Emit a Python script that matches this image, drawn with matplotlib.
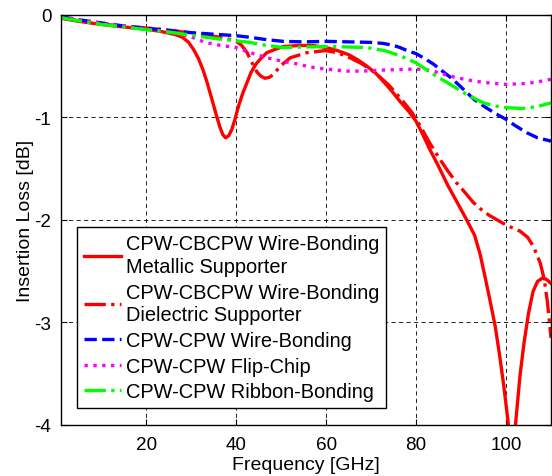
import matplotlib
matplotlib.use("Agg")
import matplotlib.pyplot as plt

plt.rcParams['font.family'] = ['Liberation Sans', 'DejaVu Sans']

# ---- data ----
metal_f = [1, 5, 10, 15, 20, 24, 26.5, 28, 29.4, 30.5, 31.6, 32.6, 33.5, 34.6, 35.5, 36.3, 37, 37.6,
           38.3, 39, 39.7, 40.5, 41.4, 42.4, 43.3, 44.4, 45.6, 46.8, 48.5, 50.5, 54, 57, 60, 62.5, 65,
           67, 69, 71, 72.7, 74.5, 76.5, 78.5, 80, 81.5, 83, 85, 87, 89, 91, 93, 94.2, 95.3, 96.5,
           97.6, 98.6, 99.5, 100.4, 101.3, 102.2, 103.1, 104, 105, 106, 107, 108, 109, 110]
metal_v = [-0.035, -0.065, -0.095, -0.12, -0.14, -0.17, -0.195, -0.22, -0.27, -0.34, -0.43, -0.54,
           -0.66, -0.83, -0.97, -1.09, -1.17, -1.20, -1.18, -1.12, -1.02, -0.89, -0.77, -0.66, -0.56,
           -0.48, -0.42, -0.37, -0.34, -0.31, -0.30, -0.30, -0.32, -0.35, -0.39, -0.44, -0.50, -0.57,
           -0.65, -0.74, -0.85, -0.95, -1.04, -1.17, -1.31, -1.48, -1.66, -1.82, -1.98, -2.15, -2.33,
           -2.55, -2.80, -3.04, -3.33, -3.62, -3.95, -4.4, -3.95, -3.52, -3.20, -2.91, -2.70, -2.60,
           -2.57, -2.58, -2.62]

diel_f = [1, 5, 10, 15, 20, 25, 30, 35, 38, 40, 41.2, 42.4, 43.5, 44.6, 45.5, 46.4, 47.4, 48.3, 49.8,
          52, 55.7, 59.8, 62.5, 65.3, 68, 71, 74, 77, 79, 80.9, 83, 85.3, 87, 89, 91, 92.7, 94.5, 96.4,
          98, 100, 101.5, 103.1, 104.8, 106.1, 107.6, 108.5, 109.2, 110]
diel_v = [-0.03, -0.06, -0.09, -0.115, -0.13, -0.15, -0.18, -0.21, -0.235, -0.26, -0.30, -0.37, -0.47,
          -0.56, -0.60, -0.62, -0.61, -0.58, -0.50, -0.42, -0.37, -0.35, -0.37, -0.42, -0.48, -0.57,
          -0.69, -0.84, -0.95, -1.085, -1.25, -1.41, -1.52, -1.64, -1.74, -1.83, -1.90, -1.96, -2.00,
          -2.05, -2.08, -2.11, -2.17, -2.26, -2.42, -2.58, -2.80, -3.15]

wire_f = [1, 5, 10, 15, 20, 25, 30, 35, 40, 43, 47, 50.5, 55, 60, 65, 70, 72.7, 75, 76.4, 78, 80, 82,
          83.8, 85.7, 87.6, 89.5, 91.3, 93, 95, 97.5, 100, 102, 104.6, 107, 109.8, 110]
wire_v = [-0.02, -0.05, -0.08, -0.11, -0.13, -0.155, -0.175, -0.19, -0.205, -0.22, -0.245, -0.26,
          -0.265, -0.26, -0.265, -0.27, -0.28, -0.30, -0.32, -0.35, -0.38, -0.43, -0.48, -0.545,
          -0.61, -0.685, -0.76, -0.83, -0.89, -0.96, -1.02, -1.08, -1.15, -1.20, -1.23, -1.24]

flip_f = [1, 5, 10, 15, 20, 24, 27.9, 30.5, 33.1, 36.5, 40, 43.1, 46.8, 49.8, 53.5, 56.5, 59.8, 64.6,
          68, 72.7, 76, 80, 82, 83.8, 85.7, 87.6, 91.3, 95, 100, 104.6, 107, 110]
flip_v = [-0.02, -0.05, -0.085, -0.11, -0.14, -0.16, -0.19, -0.225, -0.27, -0.30, -0.32, -0.37, -0.42,
          -0.45, -0.48, -0.51, -0.53, -0.55, -0.55, -0.54, -0.535, -0.53, -0.535, -0.55, -0.575,
          -0.60, -0.635, -0.66, -0.68, -0.67, -0.655, -0.63]

ribbon_f = [1, 5, 10, 15, 20, 25, 30, 35, 40, 43, 46.8, 50.5, 55, 60, 65, 69, 73, 76.4, 80, 83.8,
            87.6, 91.3, 95, 97.5, 100, 103.4, 107, 110]
ribbon_v = [-0.03, -0.06, -0.095, -0.12, -0.147, -0.17, -0.2, -0.23, -0.255, -0.27, -0.30, -0.32,
            -0.315, -0.31, -0.315, -0.32, -0.35, -0.40, -0.47, -0.58, -0.68, -0.78, -0.86, -0.89,
            -0.905, -0.915, -0.895, -0.86]

labels = ["CPW-CBCPW Wire-Bonding\nMetallic Supporter",
          "CPW-CBCPW Wire-Bonding\nDielectric Supporter",
          "CPW-CPW Wire-Bonding",
          "CPW-CPW Flip-Chip",
          "CPW-CPW Ribbon-Bonding"]
x_ticks = [20, 40, 60, 80, 100]
y_ticks = [0, -1, -2, -3, -4]

# ---- figure ----
fig = plt.figure(figsize=(5.52, 4.77), dpi=100)
ax = fig.add_axes([61.0 / 552, 51.0 / 477, 490.0 / 552, 410.3 / 477])

lw = 2.4
ax.plot(metal_f, metal_v, color=(1, 0, 0), lw=lw, ls='-', label=labels[0])
ax.plot(diel_f, diel_v, color=(1, 0, 0), lw=lw, ls='-.', label=labels[1])
ax.plot(wire_f, wire_v, color=(0, 0, 1), lw=lw, ls='--', label=labels[2])
ax.plot(flip_f, flip_v, color=(1, 0, 1), lw=lw, ls=':', label=labels[3])
ax.plot(ribbon_f, ribbon_v, color=(0, 1, 0), lw=lw, ls='-.', label=labels[4])

ax.set_xlim(1, 110)
ax.set_ylim(-4, 0)
ax.set_xticks(x_ticks)
ax.set_yticks(y_ticks)
ax.set_yticklabels([str(v) for v in y_ticks])
ax.tick_params(direction='in', length=4, width=0.8, labelsize=13.6, top=True, right=True,
               pad=7, colors='black')
ax.tick_params(axis='x', pad=8)
ax.grid(True, color='black', linestyle=(0, (5, 4)), linewidth=0.6)
for s in ax.spines.values():
    s.set_linewidth(1.0)
    s.set_color('black')

ax.set_xlabel("Frequency [GHz]", fontsize=14, labelpad=2)
ax.set_ylabel("Insertion Loss [dB]", fontsize=14, labelpad=0)

leg = ax.legend(loc='lower left', bbox_to_anchor=(0.033, 0.041), fontsize=14.4, frameon=True,
                fancybox=False, edgecolor='black', framealpha=1, borderpad=0.35,
                labelspacing=0.33, handlelength=1.83, handletextpad=0.25, borderaxespad=0)
leg.get_frame().set_linewidth(1.0)
for t in leg.get_texts():
    t.set_linespacing(1.25)

fig.savefig("out.png", dpi=100)
